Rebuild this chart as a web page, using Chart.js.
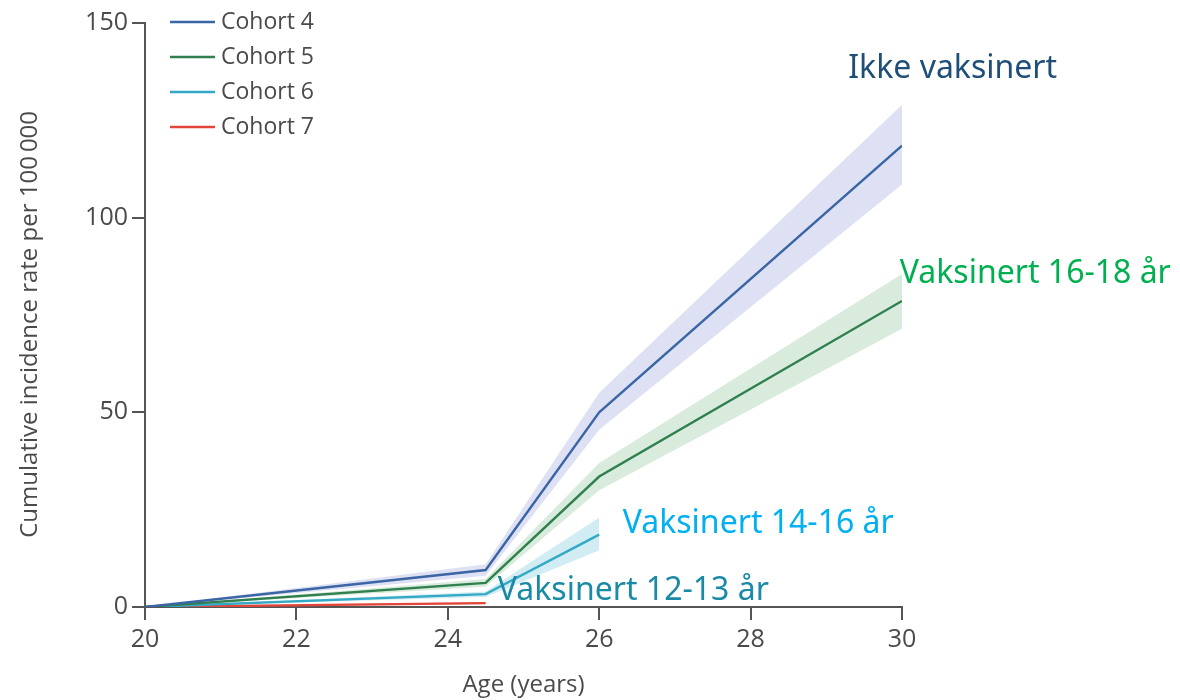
<!DOCTYPE html>
<html>
<head>
<meta charset="utf-8">
<script src="https://cdn.jsdelivr.net/npm/chart.js@4.4.1/dist/chart.umd.min.js"></script>
<style>
html,body{margin:0;padding:0;background:#fff;}
#wrap{width:1180px;height:700px;position:relative;}
</style>
</head>
<body>
<div id="wrap"><canvas id="c" width="1180" height="700"></canvas></div>
<script>
// ---- data ----
const seriesNames = ['Cohort 4', 'Cohort 5', 'Cohort 6', 'Cohort 7'];
const ages4 = [20, 24.5, 26, 30];
const cohort4 = [0, 9.5, 50, 118.5];
const cohort4Low = [0, 8, 45.5, 108.5];
const cohort4High = [0, 11, 55, 129];
const ages5 = [20, 24.5, 26, 30];
const cohort5 = [0, 6.2, 33.5, 78.6];
const cohort5Low = [0, 5.2, 30, 71.5];
const cohort5High = [0, 7.2, 37, 85.5];
const ages6 = [20, 24.5, 26];
const cohort6 = [0, 3.3, 18.6];
const cohort6Low = [0, 2.6, 14.6];
const cohort6High = [0, 4.0, 23];
const ages7 = [20, 24.5];
const cohort7 = [0, 1.0];
const cohort7Low = [0, 0.7];
const cohort7High = [0, 1.3];
const xTicks = [20, 22, 24, 26, 28, 30];
const yTicks = [0, 50, 100, 150];
const annotationTexts = ['Ikke vaksinert', 'Vaksinert 16-18 år', 'Vaksinert 14-16 år', 'Vaksinert 12-13 år'];
const annotationX = [29.29, 29.97, 26.31, 24.66];
const annotationY = [135.9, 83.2, 19.0, 1.8];
const annotationColors = ['#1f4e79', '#00b050', '#00b0f0', '#1a8aa6'];

const lineColors = ['#3b66a6', '#2f7f4f', '#34a9c6', '#e2453a'];
const bandColors = ['rgba(200,205,235,0.6)', 'rgba(190,222,198,0.6)', 'rgba(190,228,236,0.7)', 'rgba(240,180,175,0.6)'];

const pts = (xs, ys) => xs.map((x, i) => ({x: x, y: ys[i]}));
const groups = [
  [ages4, cohort4, cohort4Low, cohort4High],
  [ages5, cohort5, cohort5Low, cohort5High],
  [ages6, cohort6, cohort6Low, cohort6High],
  [ages7, cohort7, cohort7Low, cohort7High]
];
const datasets = [];
groups.forEach((g, i) => {
  datasets.push({label: 'low' + i, data: pts(g[0], g[2]), borderWidth: 0, pointRadius: 0, fill: false, isBand: true, order: 10});
  datasets.push({label: 'high' + i, data: pts(g[0], g[3]), borderWidth: 0, pointRadius: 0, fill: '-1', backgroundColor: bandColors[i], isBand: true, order: 10});
});
groups.forEach((g, i) => {
  datasets.push({label: seriesNames[i], data: pts(g[0], g[1]), borderColor: lineColors[i], borderWidth: 2.4, pointRadius: 0, fill: false, tension: 0, order: 1});
});

const FONT = '"Open Sans", "Noto Sans", sans-serif';
const TXT = '#4a4a4a';

const extras = {
  id: 'extras',
  afterDraw(chart) {
    const ctx = chart.ctx;
    ctx.save();
    // legend
    const mains = chart.data.datasets.filter(d => !d.isBand);
    mains.forEach((d, i) => {
      const y = 22 + i * 35;
      ctx.strokeStyle = d.borderColor;
      ctx.lineWidth = 2.4;
      ctx.beginPath();
      ctx.moveTo(170, y);
      ctx.lineTo(215, y);
      ctx.stroke();
      ctx.fillStyle = TXT;
      ctx.font = '23px ' + FONT;
      ctx.textBaseline = 'middle';
      ctx.textAlign = 'left';
      ctx.fillText(d.label, 221, y);
    });
    // annotations
    const xs = chart.scales.x, ys = chart.scales.y;
    annotationTexts.forEach((t, i) => {
      ctx.fillStyle = annotationColors[i];
      ctx.font = '32px "Noto Sans", sans-serif';
      ctx.textBaseline = 'alphabetic';
      ctx.textAlign = 'left';
      ctx.fillText(t, xs.getPixelForValue(annotationX[i]), ys.getPixelForValue(annotationY[i]));
    });
    ctx.restore();
  }
};

new Chart(document.getElementById('c'), {
  type: 'line',
  data: {datasets: datasets},
  options: {
    responsive: false,
    animation: false,
    layout: {padding: {top: 23, right: 278, bottom: 0, left: 0}},
    plugins: {legend: {display: false}, tooltip: {enabled: false}},
    scales: {
      x: {
        type: 'linear', min: 20, max: 30,
        afterBuildTicks: s => { s.ticks = xTicks.map(v => ({value: v})); },
        afterFit: s => { s.height = 93; },
        grid: {drawOnChartArea: false, drawTicks: true, tickLength: 13, color: '#555', lineWidth: 2},
        border: {display: true, color: '#555', width: 2},
        ticks: {color: TXT, font: {size: 25, family: FONT}, padding: 5},
        title: {display: true, text: 'Age (years)', color: TXT, font: {size: 24, family: FONT}, padding: {top: 0, bottom: 0}}
      },
      y: {
        min: 0, max: 150,
        afterBuildTicks: s => { s.ticks = yTicks.map(v => ({value: v})); },
        afterFit: s => { s.width = 145; },
        grid: {drawOnChartArea: false, drawTicks: true, tickLength: 13, color: '#555', lineWidth: 2},
        border: {display: true, color: '#555', width: 2},
        ticks: {color: TXT, font: {size: 25, family: FONT}, padding: 4},
        title: {display: true, text: 'Cumulative incidence rate per 100\u2009000   ', color: TXT, font: {size: 24, family: FONT}, padding: {top: 16, bottom: 0}}
      }
    }
  },
  plugins: [extras]
});
</script>
</body>
</html>
